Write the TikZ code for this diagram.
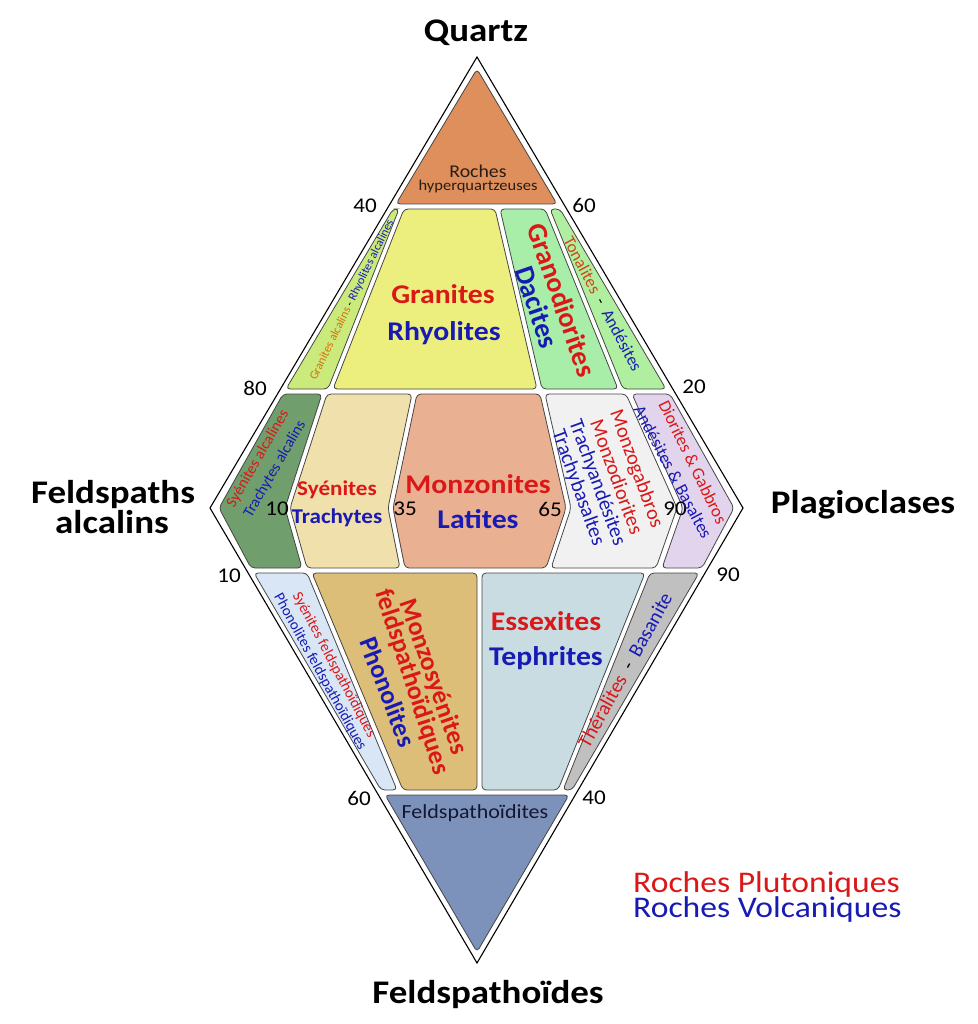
\documentclass[tikz,border=0pt]{standalone}
\usepackage{fontspec}
\setmainfont{Carlito}
\definecolor{plut}{RGB}{218,24,24}
\definecolor{volc}{RGB}{24,26,180}
\definecolor{orng}{RGB}{214,112,16}
\definecolor{tonc}{RGB}{204,72,26}
\definecolor{tileline}{RGB}{70,70,70}
\definecolor{cHyper}{RGB}{222,143,92}
\definecolor{cGalc}{RGB}{202,234,124}
\definecolor{cGran}{RGB}{236,238,126}
\definecolor{cGrano}{RGB}{168,238,168}
\definecolor{cTonal}{RGB}{176,238,160}
\definecolor{cSyalc}{RGB}{112,158,108}
\definecolor{cSyen}{RGB}{240,224,172}
\definecolor{cMonz}{RGB}{234,176,146}
\definecolor{cMgab}{RGB}{241,241,241}
\definecolor{cDior}{RGB}{226,212,236}
\definecolor{cSyfel}{RGB}{216,230,246}
\definecolor{cMzfel}{RGB}{220,190,120}
\definecolor{cEssex}{RGB}{200,220,226}
\definecolor{cTheral}{RGB}{192,192,192}
\definecolor{cFeldsp}{RGB}{124,146,186}
\definecolor{darktxt}{RGB}{40,28,20}
\definecolor{navytxt}{RGB}{20,22,50}
\newcommand{\fsz}[1]{\fontsize{#1}{#1}\selectfont}
\begin{document}
\begin{tikzpicture}[x=1pt,y=-1pt,
  tile/.style={draw=tileline, line width=0.8pt, rounded corners=4pt},
  outerline/.style={draw=black, line width=1.1pt},
  ttl/.style={inner sep=0pt, anchor=base, xscale=1.12, font=\fsz{33}\bfseries, text=black},
  htxt/.style={inner sep=0pt, anchor=base, xscale=1.1},
  rtxt/.style={inner sep=0pt, anchor=center},
  num/.style={inner sep=0pt, anchor=center, xscale=1.1, font=\fsz{21}, text=black},
  leg/.style={inner sep=0pt, anchor=base west, xscale=1.12, font=\fsz{30}}
]
\useasboundingbox (0,0) rectangle (977,1024);
\fill[white] (0,0) rectangle (977,1024);

% outer diamond
\coordinate (Q) at (477,57);
\coordinate (P) at (743,508);
\coordinate (F) at (477,963);
\coordinate (A) at (210,508);
\draw[outerline] (Q) -- (P) -- (F) -- (A) -- cycle;

% tiles
\path[tile, fill=cHyper] (477,69) -- (557,204) -- (396,204) -- cycle;
\path[tile, fill=cGalc] (393,209) -- (399,209) -- (328,389) -- (286,389) -- cycle;
\path[tile, fill=cGran] (404,209) -- (495,209) -- (537,389) -- (333,389) -- cycle;
\path[tile, fill=cGrano] (500,209) -- (545,209) -- (618,389) -- (542,389) -- cycle;
\path[tile, fill=cTonal] (550,209) -- (560,209) -- (666,389) -- (623,389) -- cycle;

\path[tile, fill=cSyalc] (283,394) -- (322,394) -- (285,508) -- (302,568) -- (251,568) -- (219,508) -- cycle;
\path[tile, fill=cSyen] (327,394) -- (412,394) -- (388,508) -- (400,568) -- (307,568) -- (290,508) -- cycle;
\path[tile, fill=cMonz] (417,394) -- (540,394) -- (566,508) -- (546,568) -- (405,568) -- (393,508) -- cycle;
\path[tile, fill=cMgab] (545,394) -- (626,394) -- (677,508) -- (656,568) -- (551,568) -- (571,508) -- cycle;
\path[tile, fill=cDior] (632,394) -- (670,394) -- (734,508) -- (702,568) -- (662,568) -- (683,508) -- cycle;

\path[tile, fill=cSyfel] (254,573) -- (307,573) -- (397,790) -- (381,790) -- cycle;
\path[tile, fill=cMzfel] (312,573) -- (477,573) -- (477,790) -- (403,790) -- cycle;
\path[tile, fill=cEssex] (482,573) -- (645,573) -- (558,790) -- (482,790) -- cycle;
\path[tile, fill=cTheral] (650,573) -- (699,573) -- (572,790) -- (563,790) -- cycle;

\path[tile, fill=cFeldsp] (385,795) -- (569,795) -- (477,952) -- cycle;

% titles
\node[ttl] (tQ) at (476,42) {Quartz};
\node[ttl] (tA1) at (113,503) {Feldspaths};
\node[ttl] (tA2) at (112,533) {alcalins};
\node[ttl] (tP) at (863,513) {Plagioclases};
\node[ttl] (tF) at (488,1003) {Feldspathoïdes};

% legend
\node[leg, text=plut] (lp) at (633,892) {Roches Plutoniques};
\node[leg, text=volc] (lv) at (633,917) {Roches Volcaniques};

% numbers
\node[num] (n40a) at (365,206) {40};
\node[num] (n60a) at (584,205) {60};
\node[num] (n80) at (255,388) {80};
\node[num] (n20) at (694,387) {20};
\node[num] (n10a) at (277,509) {10};
\node[num] (n35) at (405,509) {35};
\node[num] (n65) at (550,509) {65};
\node[num] (n90a) at (675,509) {90};
\node[num] (n10b) at (229,576) {10};
\node[num] (n90b) at (728,575) {90};
\node[num] (n60b) at (359,798) {60};
\node[num] (n40b) at (594,798) {40};

% hyperquartzeuses
\node[htxt, font=\fsz{18}, text=darktxt] (hq1) at (478,178) {Roches};
\node[htxt, font=\fsz{15}, text=darktxt] (hq2) at (478,191) {hyperquartzeuses};

% row 2
\node[rtxt, rotate=64, font=\fsz{12}] (galc) at (352,300)
  {{\color{orng}Granites alcalins} - {\color{volc}Rhyolites alcalines}};
\node[htxt, font=\fsz{27}\bfseries, text=plut] (gr1) at (443,303) {Granites};
\node[htxt, font=\fsz{27}\bfseries, text=volc] (gr2) at (444,340) {Rhyolites};
\node[rtxt, rotate=-71, font=\fsz{28}\bfseries, text=plut] (gd1) at (562,300) {Granodiorites};
\node[rtxt, rotate=-71, font=\fsz{28}\bfseries, text=volc] (gd2) at (537,307) {Dacites};
\node[rtxt, rotate=-62, font=\fsz{17}] (ton) at (603,304)
  {{\color{tonc}Tonalites} \ - \ {\color{volc}Andésites}};

% row 3
\node[rtxt, rotate=60, font=\fsz{15.5}, text=plut] (sa1) at (258,459) {Syénites alcalines};
\node[rtxt, rotate=60, font=\fsz{15.5}, text=volc] (sa2) at (275,469) {Trachytes alcalins};
\node[htxt, font=\fsz{21}\bfseries, text=plut] (sy1) at (337,495) {Syénites};
\node[htxt, font=\fsz{21}\bfseries, text=volc] (sy2) at (337,523) {Trachytes};
\node[htxt, font=\fsz{27}\bfseries, text=plut] (mz1) at (478,493) {Monzonites};
\node[htxt, font=\fsz{27}\bfseries, text=volc] (mz2) at (478,528) {Latites};
\node[rtxt, rotate=-70, font=\fsz{20.5}, text=plut] (mg1) at (636,469) {Monzogabbros};
\node[rtxt, rotate=-70, font=\fsz{20.5}, text=plut] (mg2) at (617,477) {Monzodiorites};
\node[rtxt, rotate=-70, font=\fsz{20.5}, text=volc] (mg3) at (597,483) {Trachyandésites};
\node[rtxt, rotate=-70, font=\fsz{20.5}, text=volc] (mg4) at (578,488) {Trachybasaltes};
\node[rtxt, rotate=-64, font=\fsz{17.5}, text=plut] (di1) at (693,462) {Diorites \& Gabbros};
\node[rtxt, rotate=-62, font=\fsz{17.5}, text=volc] (di2) at (673,472) {Andésites \& Basaltes};

% row 4
\node[rtxt, rotate=-62, font=\fsz{15}, text=plut] (sf1) at (334,665) {Syénites feldspathoïdiques};
\node[rtxt, rotate=-61, font=\fsz{15}, text=volc] (sf2) at (320,672) {Phonolites feldspathoïdiques};
\node[rtxt, rotate=-71, font=\fsz{26}\bfseries, text=plut] (mf1) at (433,677) {Monzosyénites};
\node[rtxt, rotate=-72, font=\fsz{26}\bfseries, text=plut] (mf2) at (412,682) {feldspathoïdiques};
\node[rtxt, rotate=-69, font=\fsz{26}\bfseries, text=volc] (mf3) at (388,692) {Phonolites};
\node[htxt, font=\fsz{27}\bfseries, text=plut] (es1) at (546,630) {Essexites};
\node[htxt, font=\fsz{27}\bfseries, text=volc] (es2) at (546,665) {Tephrites};
\node[rtxt, rotate=61, font=\fsz{20}] (th) at (625,670)
  {{\color{plut}Théralites} \ - \ {\color{volc}Basanite}};

% row 5
\node[htxt, font=\fsz{20}, text=navytxt] (fd) at (475,818) {Feldspathoïdites};
\end{tikzpicture}
\end{document}
